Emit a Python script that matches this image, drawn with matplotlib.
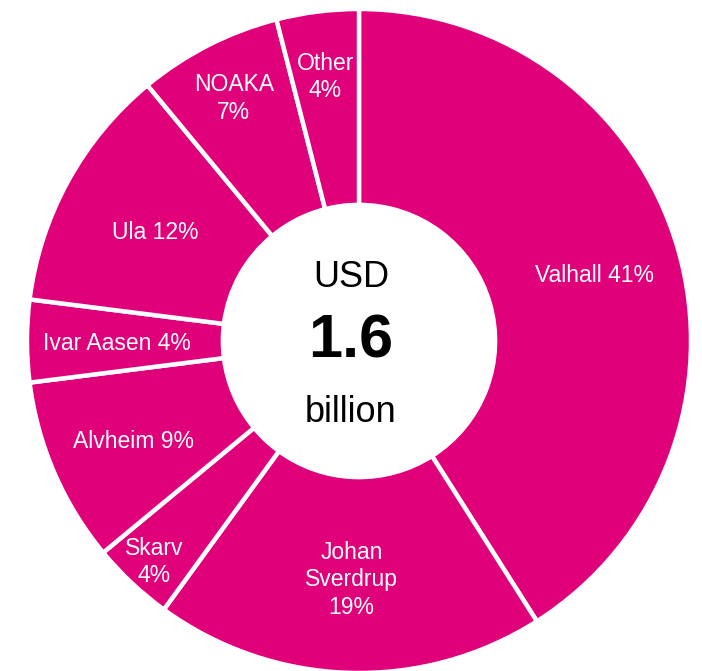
import matplotlib
matplotlib.use("Agg")
from matplotlib import pyplot as plt
import numpy as np

plt.rcParams['font.family'] = ['Liberation Sans', 'DejaVu Sans']

# data, clockwise from 12 o'clock
fields = ['Valhall', 'Johan\nSverdrup', 'Skarv', 'Alvheim', 'Ivar Aasen', 'Ula', 'NOAKA', 'Other']
shares = [41, 19, 4, 9, 4, 12, 7, 4]
label_sep = [' ', '\n', '\n', ' ', ' ', ' ', '\n', '\n']
label_r = [0.74, 0.71, 0.90, 0.74, 0.73, 0.70, 0.83, 0.81]

total_text = ['USD', '1.6', 'billion']

magenta = '#E0007A'

W, H = 702, 671
cx, cy, R = 359, 341, 332  # pixel layout of the ring

fig = plt.figure(figsize=(W / 100, H / 100), dpi=100)
ax = fig.add_axes([0, 0, 1, 1])

wedges, _ = ax.pie(shares, startangle=90, counterclock=False, radius=1,
                   colors=[magenta] * len(shares),
                   wedgeprops=dict(width=0.59, edgecolor='white', linewidth=3.2))

# pie() resets the limits, so set them afterwards
ax.set_xlim(-cx / R, (W - cx) / R)
ax.set_ylim(-(H - cy) / R, cy / R)
ax.set_aspect('equal')
ax.axis('off')

dy = -3 / R  # nudge labels down a little
for w, name, val, sep, r in zip(wedges, fields, shares, label_sep, label_r):
    ang = np.deg2rad((w.theta1 + w.theta2) / 2)
    ax.text(r * np.cos(ang), r * np.sin(ang) + dy, f'{name}{sep}{val}%',
            ha='center', va='center', color='white', fontsize=16.5,
            linespacing=1.25)

def px(x):
    return (x - cx) / R

def py(y):
    return (cy - y) / R

ax.text(px(351), py(278), total_text[0], ha='center', va='center', fontsize=26)
ax.text(px(351), py(342), total_text[1], ha='center', va='center', fontsize=44, fontweight='bold')
ax.text(px(351), py(413), total_text[2], ha='center', va='center', fontsize=26)

fig.savefig('out.png', dpi=100)
